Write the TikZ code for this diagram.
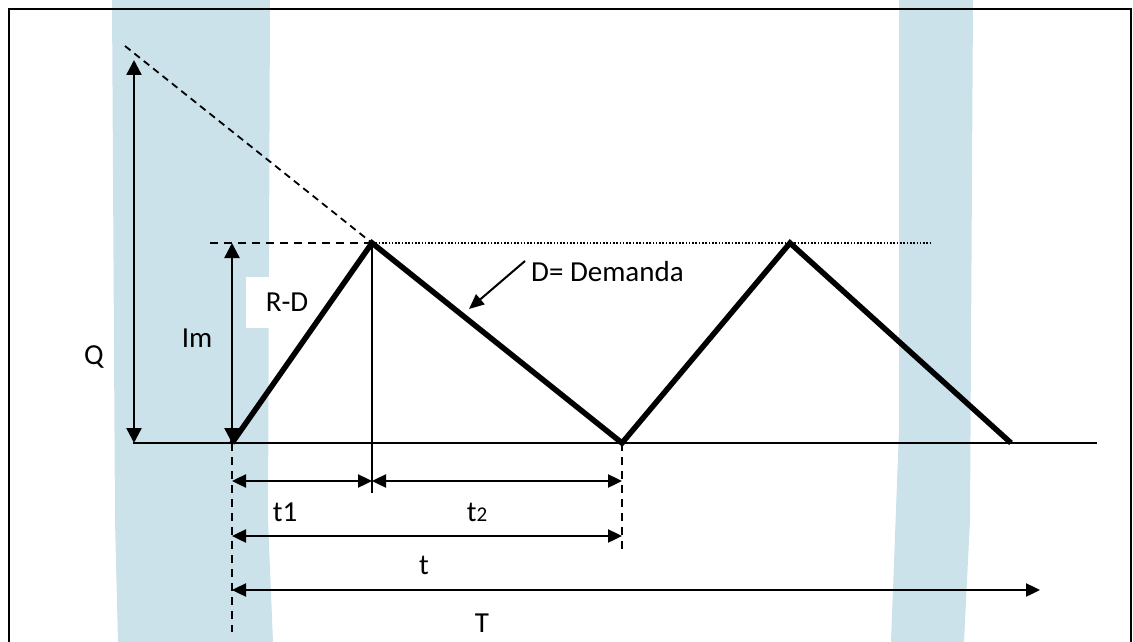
\documentclass[tikz,border=0pt]{standalone}
\usepackage{fontspec}
\setmainfont{Carlito}
\usetikzlibrary{arrows.meta}
\definecolor{bandblue}{RGB}{204,226,235}
\begin{document}
\begin{tikzpicture}[x=1pt,y=-1pt,
  dim/.style={line width=2.4pt,{Triangle[length=15pt,width=15pt]}-{Triangle[length=15pt,width=15pt]}},
  hdim/.style={line width=2.4pt,{Triangle[length=14pt,width=13pt]}-{Triangle[length=14pt,width=13pt]}},
  stock/.style={line width=5.5pt,line join=miter},
  guide/.style={line width=1.8pt,dash pattern=on 8pt off 6pt},
  dotline/.style={line width=1.6pt,dash pattern=on 1.6pt off 1.7pt},
  lbl/.style={font=\fontsize{29}{35}\selectfont, inner sep=0pt}]
\useasboundingbox (0,0) rectangle (1133,642);
% background bands
\fill[bandblue] (112,0) -- (270,0) -- (268,520) -- (273,642) -- (118,642) -- (115,520) -- cycle;
\fill[bandblue] (899,0) -- (973,0) -- (970,520) -- (964,642) -- (891,642) -- (899,430) -- cycle;
% frame
\draw[line width=2pt] (9,642) -- (9,9) -- (1131,9) -- (1131,642);
% coordinates
\coordinate (O) at (133,443);
\coordinate (E) at (1097,443);
\coordinate (A) at (232,443);
\coordinate (P1) at (372,243);
\coordinate (V) at (622,443);
\coordinate (P2) at (790,243);
\coordinate (Z) at (1011,443);
\coordinate (Qt) at (134,60);
\coordinate (Qb) at (134,443);
\coordinate (Imt) at (232,243);
\coordinate (Ds) at (125,46);
\coordinate (Hs) at (210,243);
\coordinate (He) at (930,243);
\coordinate (Vt) at (372,493);
\coordinate (Ab) at (232,632);
\coordinate (Vb) at (622,550);
\coordinate (t1a) at (232,481);
\coordinate (t1b) at (372,481);
\coordinate (t2b) at (622,481);
\coordinate (ta) at (232,536);
\coordinate (tb) at (622,536);
\coordinate (Ta) at (232,590);
\coordinate (Tb) at (1040,590);
\coordinate (Das) at (525,261);
\coordinate (Dae) at (469,309);
% guide lines
\draw[line width=1.8pt,dash pattern=on 7pt off 5pt] (Ds) -- (P1);
\draw[guide] (Hs) -- (P1);
\draw[dotline] (P1) -- (He);
\draw[guide] (A) -- (Ab);
\draw[guide] (V) -- (Vb);
\draw[line width=1.5pt] (P1) -- (Vt);
% axis
\draw[line width=2pt] (O) -- (E);
% labels
\node[lbl] (q) at (94,357) {Q};
\node[lbl] (im) at (197,338) {Im};
\node[lbl,fill=white,minimum width=82pt,minimum height=51pt] (rd) at (287,302.5) {R-D};
\node[lbl,anchor=west] (dem) at (531,272) {D= Demanda};
\node[lbl] (lt1) at (285,512) {t1};
\node[lbl] (lt2) at (477,512) {t{\fontsize{21}{25}\selectfont 2}};
\node[lbl] (lt) at (424,565) {t};
\node[lbl] (lT) at (482,623) {T};
% stock curve
\draw[stock] (A) -- (P1) -- (V) -- (P2) -- (Z);
% dimension arrows
\draw[dim] (Qb) -- (Qt);
\draw[dim] (A) -- (Imt);
\draw[hdim] (t1a) -- (t1b);
\draw[hdim] (t1b) -- (t2b);
\draw[hdim] (ta) -- (tb);
\draw[hdim] (Ta) -- (Tb);
\draw[line width=2pt,-{Triangle[length=15pt,width=13pt]}] (Das) -- (Dae);
\end{tikzpicture}
\end{document}
